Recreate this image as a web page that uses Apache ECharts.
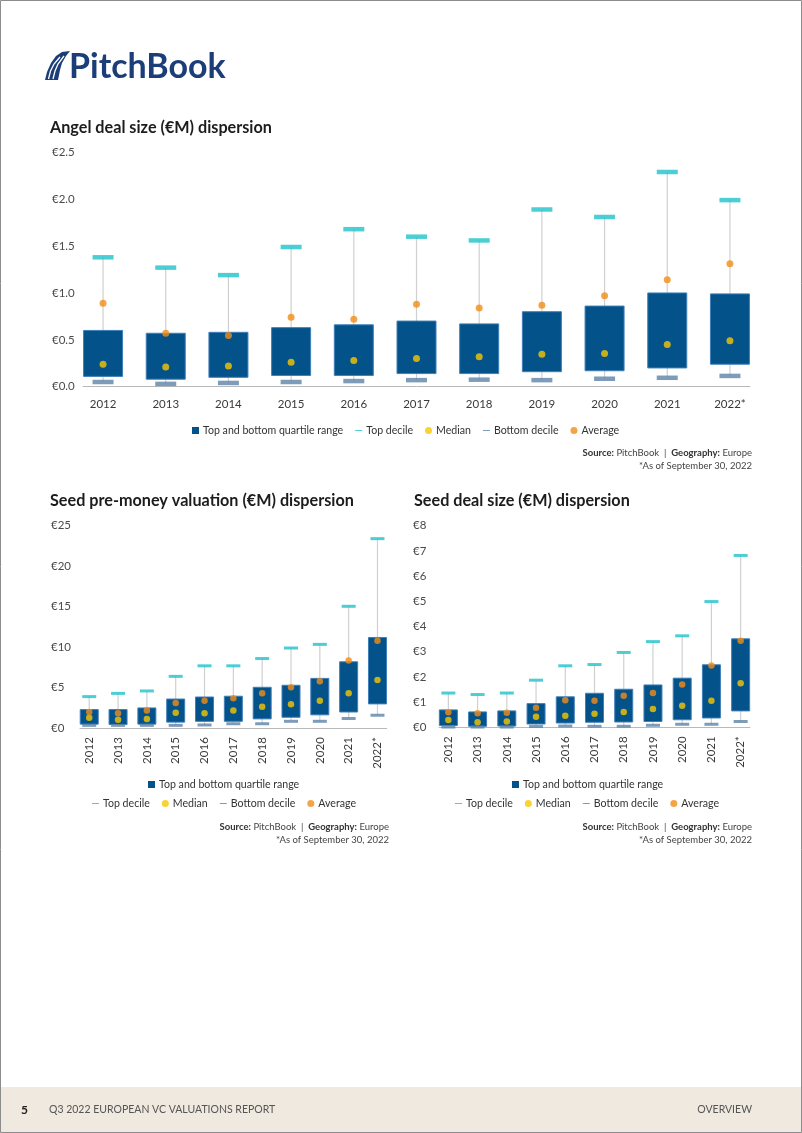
<!DOCTYPE html>
<html>
<head>
<meta charset="utf-8">
<script src="https://cdn.jsdelivr.net/npm/echarts@6/dist/echarts.min.js"></script>
<style>
html,body{margin:0;padding:0;background:#fff;}
#c{width:802px;height:1133px;}
</style>
</head>
<body>
<div id="c"></div>
<script>
// ---------- DATA ----------
const categories = ['2012','2013','2014','2015','2016','2017','2018','2019','2020','2021','2022*'];

// Angel deal size (€M)
const angelTopDecile    = [1.38,1.27,1.19,1.49,1.68,1.60,1.56,1.89,1.81,2.29,1.99];
const angelUpperQuart   = [0.60,0.57,0.58,0.63,0.66,0.70,0.67,0.80,0.86,1.00,0.99];
const angelLowerQuart   = [0.11,0.08,0.10,0.12,0.12,0.14,0.14,0.16,0.17,0.20,0.24];
const angelBottomDecile = [0.05,0.03,0.04,0.05,0.06,0.07,0.075,0.07,0.085,0.095,0.115];
const angelMedian       = [0.24,0.21,0.22,0.26,0.28,0.30,0.32,0.345,0.355,0.45,0.49];
const angelAverage      = [0.89,0.57,0.545,0.74,0.72,0.88,0.84,0.87,0.97,1.14,1.31];

// Seed pre-money valuation (€M)
const preTopDecile    = [3.9,4.3,4.6,6.4,7.7,7.7,8.6,9.9,10.35,15.05,23.4];
const preUpperQuart   = [2.3,2.3,2.5,3.6,3.85,3.95,5.05,5.3,6.15,8.2,11.2];
const preLowerQuart   = [0.5,0.45,0.5,0.75,0.85,0.85,1.15,1.35,1.65,2.0,3.0];
const preBottomDecile = [0.35,0.35,0.35,0.35,0.4,0.55,0.55,0.85,0.85,1.2,1.6];
const preMedian       = [1.3,1.05,1.15,1.9,1.85,2.2,2.65,2.95,3.4,4.3,5.95];
const preAverage      = [2.0,1.85,2.2,3.1,3.4,3.7,4.3,5.05,5.8,8.35,10.8];

// Seed deal size (€M)
const seedTopDecile    = [1.36,1.30,1.36,1.87,2.44,2.49,2.97,3.40,3.63,4.99,6.82];
const seedUpperQuart   = [0.69,0.61,0.65,0.94,1.21,1.35,1.51,1.68,1.95,2.48,3.51];
const seedLowerQuart   = [0.07,0.04,0.05,0.13,0.17,0.20,0.21,0.23,0.30,0.37,0.65];
const seedBottomDecile = [0.01,0.01,0.01,0.03,0.05,0.04,0.04,0.08,0.12,0.12,0.23];
const seedMedian       = [0.29,0.20,0.23,0.42,0.46,0.54,0.61,0.73,0.86,1.05,1.75];
const seedAverage      = [0.60,0.56,0.58,0.78,1.07,1.05,1.25,1.36,1.70,2.45,3.43];

// y-axis scales
const angelAxis = {max:2.5, interval:0.5};
const preAxis   = {max:25,  interval:5};
const seedAxis  = {max:8,   interval:1};

// ---------- STYLE ----------
const FONT = "Lato";
const TFONT = "Lato";
const LEG_FS = 10.6;
const C_BOX = '#03528a', C_BOXLINE = '#3f7fb9', C_TOP = '#1fc2cb', C_BOT = '#5c83a9',
      C_MED = '#f8c700', C_AVG = '#f28d17', C_WHISK = '#d0d0d0';
const DASH = 'path://M0,0L0.01,0.01M0,4.2h10v1.6h-10zM9.99,9.99L10,10';

const chart = echarts.init(document.getElementById('c'), null, {renderer:'canvas'});

const charts = [
  {top:angelTopDecile, q3:angelUpperQuart, q1:angelLowerQuart, bot:angelBottomDecile, med:angelMedian, avg:angelAverage,
   grid:{left:83, top:152.3, width:667, height:234.4}, axis:angelAxis, fmt:v=>'€'+v.toFixed(1),
   boxW:39, cap:[21,4.5], dot:7, ylMargin:31, rotate:0, xlMargin:12},
  {top:preTopDecile, q3:preUpperQuart, q1:preLowerQuart, bot:preBottomDecile, med:preMedian, avg:preAverage,
   grid:{left:80, top:525.7, width:306.7, height:202.5}, axis:preAxis, fmt:v=>'€'+v,
   boxW:18, cap:[14,3], dot:6.5, ylMargin:29, rotate:90, xlMargin:9},
  {top:seedTopDecile, q3:seedUpperQuart, q1:seedLowerQuart, bot:seedBottomDecile, med:seedMedian, avg:seedAverage,
   grid:{left:439, top:525.7, width:311, height:201.6}, axis:seedAxis, fmt:v=>'€'+v,
   boxW:18, cap:[14,3], dot:6.5, ylMargin:26, rotate:90, xlMargin:9}
];

const grids=[], xAxes=[], yAxes=[], series=[];
charts.forEach((c,k)=>{
  grids.push(Object.assign({containLabel:false}, c.grid));
  xAxes.push({
    type:'value', gridIndex:k, min:-0.32, max:10.32,
    axisLine:{show:true, onZero:false, lineStyle:{color:'#b9b9b9', width:1}},
    axisTick:{show:false}, splitLine:{show:false},
    axisLabel:{customValues:categories.map((_,i)=>i), formatter:v=>categories[Math.round(v)],
      color:'#3a3a3a', fontSize:11.5, fontFamily:FONT, margin:c.xlMargin, rotate:c.rotate}
  });
  yAxes.push({
    type:'value', gridIndex:k, min:0, max:c.axis.max, interval:c.axis.interval,
    axisLine:{show:false}, axisTick:{show:false}, splitLine:{show:false},
    axisLabel:{formatter:c.fmt, color:'#4a4a4a', fontSize:11.5, fontFamily:FONT, align:'left', margin:c.ylMargin}
  });
  const w = c.boxW;
  series.push({
    name:'Top and bottom quartile range', type:'custom', xAxisIndex:k, yAxisIndex:k,
    itemStyle:{color:C_BOX}, encode:{x:0, y:[1,2,3,4]},
    data:categories.map((_,i)=>[i, c.q1[i], c.q3[i], c.bot[i], c.top[i]]),
    renderItem:(params, api)=>{
      const x = api.value(0);
      const pLo = api.coord([x, api.value(1)]);
      const pHi = api.coord([x, api.value(2)]);
      const pB = api.coord([x, api.value(3)]);
      const pT = api.coord([x, api.value(4)]);
      return {type:'group', children:[
        {type:'line', shape:{x1:pT[0], y1:pT[1], x2:pB[0], y2:pB[1]}, style:{stroke:C_WHISK, lineWidth:1.2}},
        {type:'rect', shape:{x:pHi[0]-w/2, y:pHi[1], width:w, height:pLo[1]-pHi[1]},
         style:{fill:C_BOX, stroke:C_BOXLINE, lineWidth:1}}
      ]};
    }
  });
  series.push({name:'Top decile', type:'scatter', xAxisIndex:k, yAxisIndex:k, symbol:'rect', symbolSize:c.cap,
    itemStyle:{color:C_TOP}, data:c.top.map((v,i)=>[i,v])});
  series.push({name:'Bottom decile', type:'scatter', xAxisIndex:k, yAxisIndex:k, symbol:'rect', symbolSize:c.cap,
    itemStyle:{color:C_BOT}, data:c.bot.map((v,i)=>[i,v])});
  series.push({name:'Median', type:'scatter', xAxisIndex:k, yAxisIndex:k, symbol:'circle', symbolSize:c.dot,
    itemStyle:{color:C_MED}, data:c.med.map((v,i)=>[i,v])});
  series.push({name:'Average', type:'scatter', xAxisIndex:k, yAxisIndex:k, symbol:'circle', symbolSize:c.dot,
    itemStyle:{color:C_AVG}, data:c.avg.map((v,i)=>[i,v])});
});

const legItems = {
  box:{name:'Top and bottom quartile range', icon:'rect'},
  top:{name:'Top decile', icon:DASH},
  med:{name:'Median', icon:'circle'},
  bot:{name:'Bottom decile', icon:DASH},
  avg:{name:'Average', icon:'circle'}
};
const mctx = document.createElement('canvas').getContext('2d');
mctx.font = LEG_FS + 'px ' + FONT;
const IW = 7, IG = 12, TG = 4;
function legend(center, top, keys){
  let width = 0;
  keys.forEach((k,i)=>{ width += IW + TG + mctx.measureText(legItems[k].name).width + (i ? IG : 0); });
  return {left:Math.round(center - width/2), top:top, orient:'horizontal', itemWidth:IW, itemHeight:7, itemGap:IG,
    selectedMode:false, textStyle:{color:'#333', fontSize:LEG_FS, fontFamily:FONT, padding:[0,0,0,-1]},
    data:keys.map(k=>legItems[k])};
}
const legends = [
  legend(401, 420, ['box','top','med','bot','avg']),
  legend(219, 774, ['box']),
  legend(219, 793, ['top','med','bot','avg']),
  legend(582.5, 774, ['box']),
  legend(582.5, 793, ['top','med','bot','avg'])
];

function srcText(xr, y){
  return [
    {type:'text', x:xr, y:y, style:{text:'{b|Source:} PitchBook  |  {b|Geography:} Europe', align:'right', verticalAlign:'middle',
      fontFamily:FONT, fontSize:9.5, fill:'#444', rich:{b:{fontWeight:'bold', fontFamily:FONT, fontSize:9.5, fill:'#333'}}}},
    {type:'text', x:xr, y:y+13, style:{text:'*As of September 30, 2022', align:'right', verticalAlign:'middle',
      fontFamily:FONT, fontSize:9.5, fill:'#444'}}
  ];
}
function title(x, y, t){
  return {type:'text', x:x, y:y, style:{text:t, fontFamily:TFONT, fontWeight:'bold', fontSize:16.2, fill:'#1c1c1c', verticalAlign:'middle'}};
}

const graphic = [
  // logo
  {type:'polygon', shape:{points:[[45,80],[47,72],[51,63],[56,56],[62,52],[70,51],[66,56],[62,63],[60,70],[58,80]]}, style:{fill:'#1b3d78'}},
  {type:'polyline', shape:{points:[[48.5,79],[50.5,71],[54,64],[60,57]]}, style:{stroke:'#fff', lineWidth:1.3, fill:null}},
  {type:'polyline', shape:{points:[[53,79],[55,71],[58,64],[64,56]]}, style:{stroke:'#fff', lineWidth:1.3, fill:null}},
  {type:'text', x:69, y:67, style:{text:'PitchBook', fontFamily:TFONT, fontWeight:'bold', fontSize:34, fill:'#1b3d78', verticalAlign:'middle'}},
  title(50, 128, 'Angel deal size (€M) dispersion'),
  title(50, 501, 'Seed pre-money valuation (€M) dispersion'),
  title(414, 501, 'Seed deal size (€M) dispersion'),
  ...srcText(752, 453),
  ...srcText(389, 827),
  ...srcText(752, 827),
  // footer
  {type:'rect', shape:{x:0, y:1087, width:802, height:46}, style:{fill:'#efe9df'}},
  {type:'text', x:21, y:1110, style:{text:'5', fontFamily:TFONT, fontWeight:'bold', fontSize:12, fill:'#222', verticalAlign:'middle'}},
  {type:'text', x:49, y:1110, style:{text:'Q3 2022 EUROPEAN VC VALUATIONS REPORT', fontFamily:FONT, fontSize:10.5, fill:'#555', verticalAlign:'middle'}},
  {type:'text', x:752, y:1110, style:{text:'OVERVIEW', fontFamily:FONT, fontSize:10.5, fill:'#555', align:'right', verticalAlign:'middle'}},
  // page border
  {type:'rect', z:100, shape:{x:0.5, y:0.5, width:801, height:1132}, style:{fill:null, stroke:'#8c8c8c', lineWidth:1}}
];

chart.setOption({
  animation:false,
  backgroundColor:'#fff',
  grid:grids, xAxis:xAxes, yAxis:yAxes, series:series, legend:legends, graphic:graphic
});
</script>
</body>
</html>
